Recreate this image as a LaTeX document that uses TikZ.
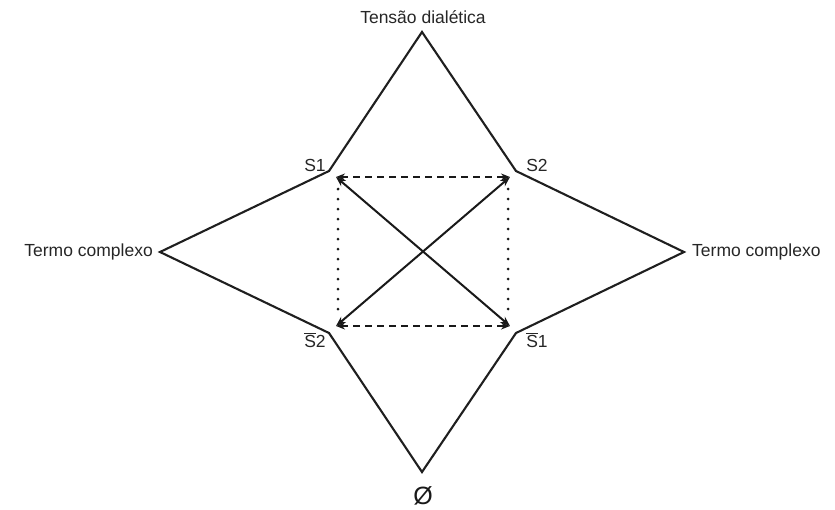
\documentclass[tikz,border=0pt]{standalone}
\usepackage{fontspec}
\setmainfont{Liberation Sans}
\usetikzlibrary{arrows.meta}
\begin{document}
\begin{tikzpicture}[x=1pt,y=-1pt,
  lbl/.style={inner sep=0pt, font=\fontsize{17.5}{21}\selectfont, text=black!85},
  starline/.style={line width=2.1pt, black!88, line join=miter},
  dasharr/.style={line width=2pt, black!90, dash pattern=on 7pt off 5pt, {Stealth[length=9pt,width=7pt]}-{Stealth[length=9pt,width=7pt]}},
  diagarr/.style={line width=2pt, black!90, {Stealth[length=10pt,width=7.5pt]}-{Stealth[length=10pt,width=7.5pt]}},
  dotline/.style={line width=3pt, black!90, dash pattern=on 0pt off 10pt, line cap=round}]
\useasboundingbox (0,0) rectangle (835,509);
% star corners
\coordinate (top) at (422,32);
\coordinate (ne) at (516,171);
\coordinate (right) at (684,252);
\coordinate (se) at (516,333);
\coordinate (bottom) at (422,472);
\coordinate (sw) at (329,333);
\coordinate (left) at (160,252);
\coordinate (nw) at (329,171);
\draw[starline] (top) -- (ne) -- (right) -- (se) -- (bottom) -- (sw) -- (left) -- (nw) -- cycle;
% rectangle corners
\coordinate (a) at (336,177);
\coordinate (b) at (510,177);
\coordinate (c) at (510,326);
\coordinate (d) at (336,326);
\coordinate (a1) at (338,189);
\coordinate (d1) at (338,316);
\coordinate (b1) at (508,189);
\coordinate (c1) at (508,316);
\draw[dasharr] (a) -- (b);
\draw[dasharr] (d) -- (c);
\draw[dotline] (a1) -- (d1);
\draw[dotline] (b1) -- (c1);
\draw[diagarr] (a) -- (c);
\draw[diagarr] (d) -- (b);
% labels
\node[lbl] (tens) at (423,17) {Tensão dialética};
\node[lbl] (s1) at (315,165) {S1};
\node[lbl] (s2) at (537,165) {S2};
\node[lbl] (s2b) at (315,340) {$\overline{\mbox{S}}$2};
\node[lbl] (s1b) at (537,340) {$\overline{\mbox{S}}$1};
\node[lbl, anchor=east] (tl) at (153,252) {Termo complexo};
\node[lbl, anchor=west] (tr) at (692,252) {Termo complexo};
\node[lbl, font=\fontsize{25}{28}\selectfont, text=black!90] (empty) at (423,496) {Ø};
\end{tikzpicture}
\end{document}
